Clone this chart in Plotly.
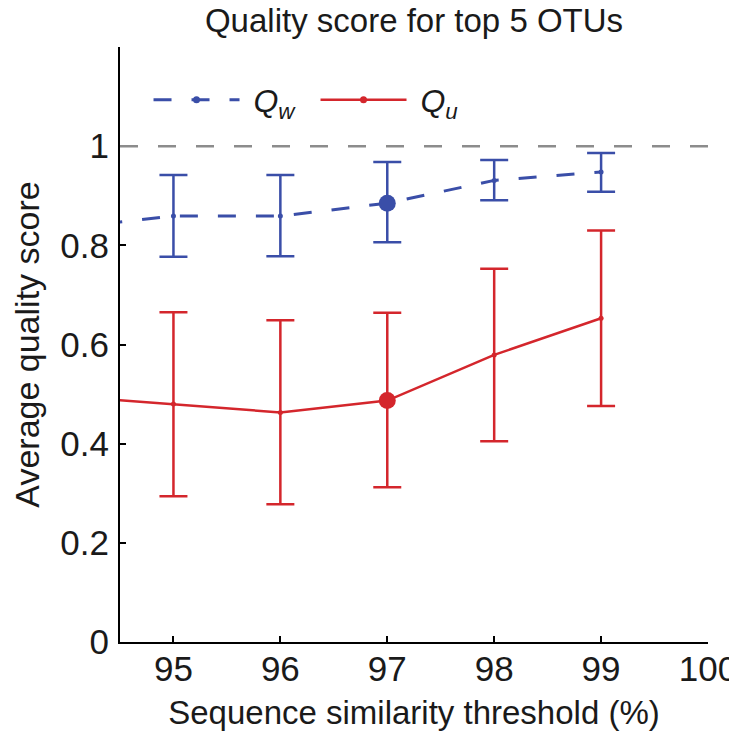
import plotly.graph_objects as go

# ---- data ----
thresholds = [94, 95, 96, 97, 98, 99]
qw_mean = [0.835, 0.859, 0.859, 0.885, 0.931, 0.948]
qw_upper = [None, 0.942, 0.942, 0.968, 0.972, 0.986]
qw_lower = [None, 0.777, 0.778, 0.806, 0.891, 0.908]
qu_mean = [0.496, 0.480, 0.463, 0.487, 0.579, 0.653]
qu_upper = [None, 0.665, 0.649, 0.664, 0.753, 0.830]
qu_lower = [None, 0.294, 0.278, 0.312, 0.405, 0.476]
highlight_x = 97
reference_level = 1.0
x_ticks = [95, 96, 97, 98, 99, 100]
y_ticks = [0, 0.2, 0.4, 0.6, 0.8, 1]
y_tick_labels = ["0", "0.2", "0.4", "0.6", "0.8", "1"]

BLUE = "rgb(58,78,168)"
RED = "rgb(212,38,44)"
FONT = "Liberation Sans, Arial, Helvetica, sans-serif"


def plus(m, u):
    return [None if (a is None or b is None) else b - a for a, b in zip(m, u)]


def minus(m, l):
    return [None if (a is None or b is None) else a - b for a, b in zip(m, l)]


sizes = [17 if x == highlight_x else 5 for x in thresholds]

fig = go.Figure()
fig.add_hline(y=reference_level, line=dict(color="rgb(140,140,140)", width=2.5, dash="18px,20px"))

fig.add_trace(go.Scatter(
    x=thresholds, y=qw_mean, mode="lines+markers",
    name=" <i>Q</i><sub><i>w</i></sub>",
    line=dict(color=BLUE, width=3, dash="18px,20px"),
    marker=dict(color=BLUE, size=sizes, opacity=1, line=dict(width=0)),
    error_y=dict(type="data", symmetric=False,
                 array=plus(qw_mean, qw_upper), arrayminus=minus(qw_mean, qw_lower),
                 color=BLUE, thickness=2.5, width=14),
))
fig.add_trace(go.Scatter(
    x=thresholds, y=qu_mean, mode="lines+markers",
    name=" <i>Q</i><sub><i>u</i></sub>",
    line=dict(color=RED, width=2.5),
    marker=dict(color=RED, size=sizes, opacity=1, line=dict(width=0)),
    error_y=dict(type="data", symmetric=False,
                 array=plus(qu_mean, qu_upper), arrayminus=minus(qu_mean, qu_lower),
                 color=RED, thickness=2.5, width=14),
))

# page body has an 8px margin, so the figure is sized/offset to compensate
fig.update_layout(
    width=729, height=727,
    margin=dict(l=112, r=29, t=39, b=93, autoexpand=False),
    paper_bgcolor="white", plot_bgcolor="white",
    font=dict(family=FONT, size=34, color="#1a1a1a"),
    title=dict(text="Quality score for top 5 OTUs", x=0.5, xref="paper",
               y=0.999, yanchor="top", font=dict(size=33)),
    showlegend=True,
    legend=dict(orientation="h", x=0.0485, y=0.911, xanchor="left", yanchor="middle",
                bgcolor="rgba(0,0,0,0)", font=dict(size=32), itemwidth=86,
                entrywidth=66, entrywidthmode="pixels", tracegroupgap=0),
    xaxis=dict(range=[94.5, 100], tickvals=x_ticks, ticks="inside", ticklen=6,
               tickwidth=2, tickcolor="black", showline=True, linecolor="black",
               linewidth=2, showgrid=False, zeroline=False,
               tickfont=dict(size=35), ticklabelstandoff=-5,
               ticklabeloverflow="allow",
               title=dict(text="Sequence similarity threshold (%)", standoff=14,
                          font=dict(size=33))),
    yaxis=dict(range=[0, 1.2], tickvals=y_ticks, ticktext=y_tick_labels,
               ticks="inside", ticklen=6, tickwidth=2, tickcolor="black",
               showline=True, linecolor="black", linewidth=2, showgrid=False,
               zeroline=False, tickfont=dict(size=35), ticklabelstandoff=2,
               title=dict(text="Average quality score", standoff=10,
                          font=dict(size=34))),
)

fig.write_html("out.html")
